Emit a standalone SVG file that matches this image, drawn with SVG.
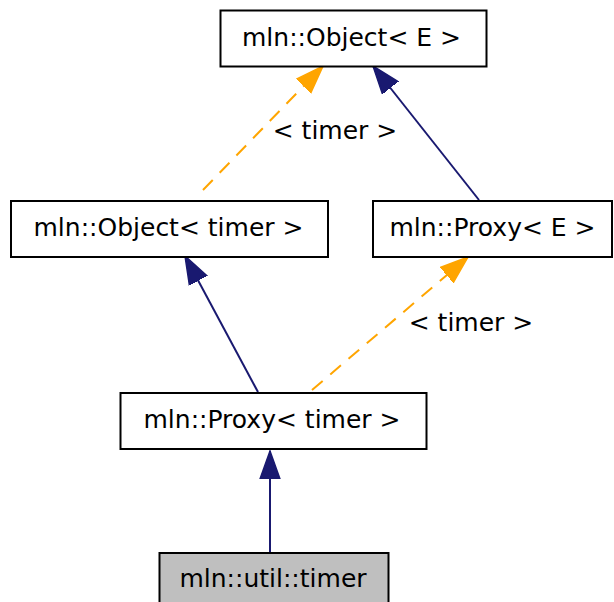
<svg xmlns="http://www.w3.org/2000/svg" width="614" height="602" viewBox="0 0 614 602">
<style>
.box{fill:#ffffff;stroke:#000000;stroke-width:2}
.cur{fill:#bfbfbf;stroke:#000000;stroke-width:2}
.t{font-family:"DejaVu Sans",sans-serif;font-size:25px;fill:#000000;text-anchor:middle}
.inh{fill:none;stroke:#191970;stroke-width:2}
.tpl{fill:none;stroke:#ffa500;stroke-width:2;stroke-dasharray:14,10}
</style>
<defs>
<marker id="an" markerUnits="userSpaceOnUse" markerWidth="30" markerHeight="22" refX="28" refY="11" orient="auto" viewBox="0 0 30 22">
<path d="M0,1 L28,11 L0,21 z" fill="#191970" stroke="#191970" stroke-width="1.5"/>
</marker>
<marker id="ao" markerUnits="userSpaceOnUse" markerWidth="30" markerHeight="22" refX="28" refY="11" orient="auto" viewBox="0 0 30 22">
<path d="M0,1 L28,11 L0,21 z" fill="#ffa500" stroke="#ffa500" stroke-width="1.5"/>
</marker>
</defs>
<g id="edges">
<path class="tpl" d="M203,190 L323,66" marker-end="url(#ao)"/>
<text class="t" x="335" y="139">&lt; timer &gt;</text>
<path class="inh" d="M479,200 L373,66" marker-end="url(#an)"/>
<path class="inh" d="M258,392 L185,256" marker-end="url(#an)"/>
<path class="tpl" d="M312,390 L468,257" marker-end="url(#ao)"/>
<text class="t" x="471" y="331">&lt; timer &gt;</text>
<path class="inh" d="M270,552 L270,451" marker-end="url(#an)"/>
</g>
<g id="node_object_E">
<rect class="box" x="220.5" y="10.5" width="266" height="56"/>
<text class="t" x="351.5" y="45.5">mln::Object&lt; E &gt;</text>
</g>
<g id="node_object_timer">
<rect class="box" x="11" y="201" width="317" height="56"/>
<text class="t" x="168.5" y="236">mln::Object&lt; timer &gt;</text>
</g>
<g id="node_proxy_E">
<rect class="box" x="373" y="201" width="239" height="56"/>
<text class="t" x="492.5" y="236">mln::Proxy&lt; E &gt;</text>
</g>
<g id="node_proxy_timer">
<rect class="box" x="120.5" y="393" width="306" height="56"/>
<text class="t" x="272" y="428">mln::Proxy&lt; timer &gt;</text>
</g>
<g id="node_util_timer">
<rect class="cur" x="159.5" y="553" width="229" height="56"/>
<text class="t" x="273" y="587">mln::util::timer</text>
</g>
</svg>
